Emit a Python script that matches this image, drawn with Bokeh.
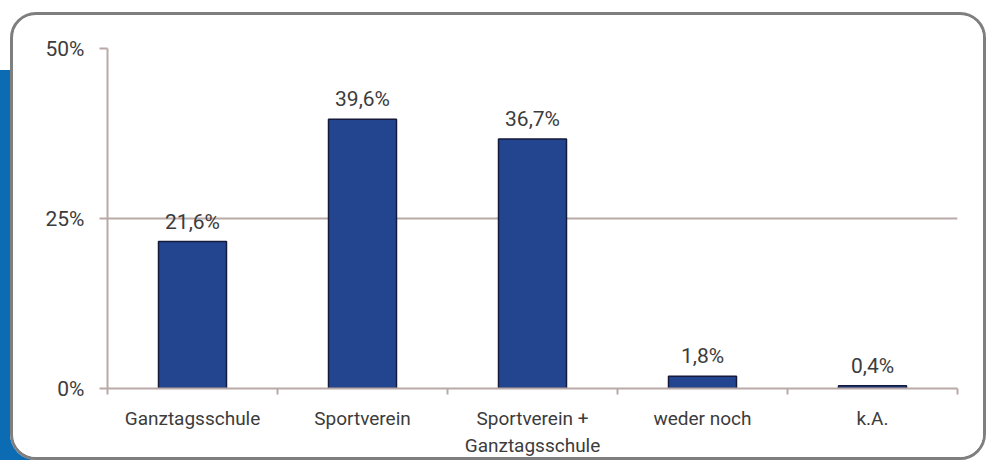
from bokeh.plotting import figure
from bokeh.models import FixedTicker, ColumnDataSource
from bokeh.core.properties import value
from bokeh.embed import file_html
from bokeh.resources import INLINE

categories = ["Ganztagsschule", "Sportverein", "Sportverein +\nGanztagsschule", "weder noch", "k.A."]
values = [21.6, 39.6, 36.7, 1.8, 0.4]
value_labels = ["21,6%", "39,6%", "36,7%", "1,8%", "0,4%"]
y_ticks = [0, 25, 50]
y_tick_labels = ["0%", "25%", "50%"]

FONT = "Roboto"
TEXT = "#3c3c3c"
AXIS = "#b9aaa8"

idx = list(range(len(categories)))
src = ColumnDataSource(dict(x=idx, top=values, label=value_labels))

p = figure(width=976, height=448, output_backend="svg", toolbar_location=None,
           x_range=(-0.5, len(categories) - 0.5), y_range=(0, 50),
           min_border_left=94, min_border_right=32, min_border_top=33, min_border_bottom=75,
           styles={"border": "3px solid #7f7f7f", "border-radius": "26px",
                   "overflow": "hidden", "margin-left": "10px", "margin-top": "12px",
                   "box-shadow": "-39px 29px 0 -29px #0b6bb3"})
p.outline_line_color = None
p.background_fill_color = "white"
p.border_fill_color = "white"

p.vbar(x="x", top="top", width=0.4, source=src, fill_color="#234590",
       line_color="#15193a", line_width=1.5)
p.text(x="x", y="top", text="label", source=src, text_align="center",
       text_baseline="bottom", y_offset=-8, text_font=value(FONT),
       text_font_size="21px", text_color=TEXT)

# y axis
p.yaxis.ticker = FixedTicker(ticks=y_ticks)
p.yaxis.major_label_overrides = {t: l for t, l in zip(y_ticks, y_tick_labels)}
p.yaxis.major_label_text_font = FONT
p.yaxis.major_label_text_font_size = "21px"
p.yaxis.major_label_text_color = TEXT
p.yaxis.major_label_standoff = 15
p.yaxis.axis_line_color = AXIS
p.yaxis.axis_line_width = 2
p.yaxis.major_tick_line_color = AXIS
p.yaxis.major_tick_line_width = 2
p.yaxis.major_tick_out = 8
p.yaxis.major_tick_in = 0
p.yaxis.minor_tick_line_color = None

# x axis
p.xaxis.ticker = FixedTicker(ticks=idx, minor_ticks=[i - 0.5 for i in idx] + [len(idx) - 0.5])
p.xaxis.major_label_overrides = {i: c for i, c in zip(idx, categories)}
p.xaxis.major_label_text_font = FONT
p.xaxis.major_label_text_font_size = "19px"
p.xaxis.major_label_text_color = TEXT
p.xaxis.major_label_standoff = 12
p.xaxis.axis_line_color = AXIS
p.xaxis.axis_line_width = 2
p.xaxis.major_tick_line_color = None
p.xaxis.minor_tick_line_color = AXIS
p.xaxis.minor_tick_line_width = 2
p.xaxis.minor_tick_out = 6
p.xaxis.minor_tick_in = 0

p.xgrid.grid_line_color = None
p.ygrid.ticker = FixedTicker(ticks=y_ticks)
p.ygrid.grid_line_color = AXIS
p.ygrid.grid_line_width = 2

open("out.html", "w").write(file_html(p, INLINE))
